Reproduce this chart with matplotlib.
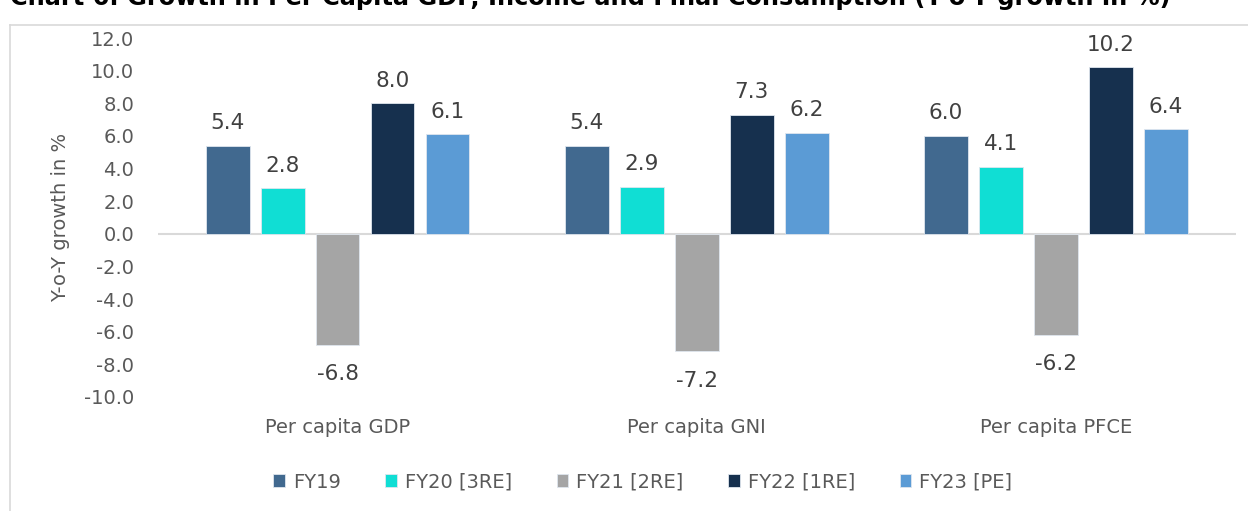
import numpy as np
import matplotlib.pyplot as plt
from matplotlib.lines import Line2D

plt.rcParams['font.family'] = ['DejaVu Sans']

# data
categories = ['Per capita GDP', 'Per capita GNI', 'Per capita PFCE']
series = ['FY19', 'FY20 [3RE]', 'FY21 [2RE]', 'FY22 [1RE]', 'FY23 [PE]']
fy19 = [5.4, 5.4, 6.0]
fy20 = [2.8, 2.9, 4.1]
fy21 = [-6.8, -7.2, -6.2]
fy22 = [8.0, 7.3, 10.2]
fy23 = [6.1, 6.2, 6.4]
values = [fy19, fy20, fy21, fy22, fy23]
colors = ['#41698f', '#10ded4', '#a5a5a5', '#16304e', '#5b9bd5']
yticks = np.arange(-10, 13, 2)

fig = plt.figure(figsize=(12.48, 5.11), dpi=100)
ax = fig.add_axes([0.1266, 0.2231, 0.8634, 0.7025])

x = np.arange(len(categories))
pitch = 0.153
width = 0.122
for i, (vals, col) in enumerate(zip(values, colors)):
    pos = x + (i - 2) * pitch
    bars = ax.bar(pos, vals, width, color=col, edgecolor='#dfe6ee',
                  linewidth=0.6, label=series[i], zorder=3)
    for b, v in zip(bars, vals):
        off = 9 if v >= 0 else -14
        ax.annotate(f'{v:.1f}', (b.get_x() + b.get_width() / 2, v),
                    xytext=(0, off), textcoords='offset points',
                    ha='center', va='bottom' if v >= 0 else 'top',
                    fontsize=15.5, color='#404040')

ax.set_xlim(-0.5, 2.5)
ax.set_ylim(-10, 12)
ax.set_yticks(yticks)
ax.set_yticklabels([f'{t:.1f}' for t in yticks])
ax.axhline(0, color='#d9d9d9', linewidth=1.5, zorder=2)
ax.set_xticks(x)
ax.set_xticklabels(categories)
ax.tick_params(axis='x', length=0, pad=15, labelsize=14, labelcolor='#595959')
ax.tick_params(axis='y', length=0, pad=17, labelsize=14, labelcolor='#595959')
for s in ax.spines.values():
    s.set_visible(False)
ax.set_ylabel('Y-o-Y growth in %', fontsize=14, color='#595959', labelpad=10)

# title (cut off at the top like the source)
fig.text(10 / 1248, 1 - 5 / 511,
         'Chart 6: Growth in Per Capita GDP, Income and Final Consumption (Y-o-Y growth in %)',
         fontsize=17.3, fontweight='bold', color='black', va='baseline', ha='left')

# frame lines
fig.add_artist(Line2D([10 / 1248, 1.0], [1 - 25 / 511] * 2, color='#d9d9d9',
                      linewidth=1.2, transform=fig.transFigure))
fig.add_artist(Line2D([10 / 1248] * 2, [0, 1 - 25 / 511], color='#d9d9d9',
                      linewidth=1.2, transform=fig.transFigure))

fig.legend(loc='center', bbox_to_anchor=(0.515, 1 - 482 / 511), ncol=5,
           frameon=False, fontsize=14, labelcolor='#595959',
           handlelength=0.6, handleheight=0.6, handletextpad=0.4,
           columnspacing=2.3)

fig.savefig('out.png', dpi=100)
